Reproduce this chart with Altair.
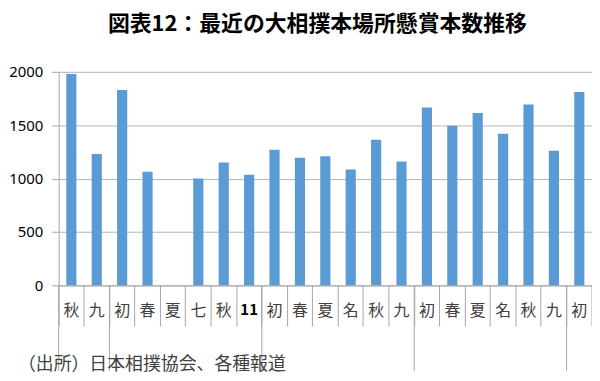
import altair as alt
import pandas as pd

title_text = "図表12：最近の大相撲本場所懸賞本数推移"
source_text = "（出所）日本相撲協会、各種報道"

labels = ["秋", "九", "初", "春", "夏", "七", "秋", "11", "初", "春", "夏",
          "名", "秋", "九", "初", "春", "夏", "名", "秋", "九", "初"]
values = [1980, 1230, 1830, 1065, None, 1000, 1150, 1035, 1270, 1195, 1210,
          1085, 1365, 1160, 1665, 1495, 1615, 1420, 1695, 1260, 1810]
year_start_idx = [0, 2, 8, 14, 20]
y_ticks = [0, 500, 1000, 1500, 2000]

keys = [f"{i:02d}{l}" for i, l in enumerate(labels)]
df = pd.DataFrame({"key": keys, "label": labels, "value": values})
bound_df = pd.DataFrame({"key": [keys[i] for i in year_start_idx]})

W, H = 537, 215
JP = "Noto Sans CJK JP"
AXC = "#A6A6A6"

xscale = alt.Scale(domain=keys, paddingInner=0, paddingOuter=0)

bars = alt.Chart(df).mark_bar(width={"band": 0.4}, color="#5B9BD5").encode(
    x=alt.X("key:N", sort=keys, scale=xscale,
            axis=alt.Axis(title=None, labels=False, bandPosition=0, tickSize=41,
                          tickColor=AXC, domainColor=AXC, grid=False)),
    y=alt.Y("value:Q", scale=alt.Scale(domain=[0, 2000]),
            axis=alt.Axis(values=y_ticks, format="d", title=None, grid=True,
                          gridColor="#B3B3B3", tickSize=7, tickColor=AXC,
                          domainColor=AXC, labelPadding=9, labelFont="Noto Sans",
                          labelFontSize=15, labelColor="#000000")),
)

end_tick = alt.Chart(alt.Data(values=[{"a": 1}])).mark_rule(color=AXC).encode(
    x=alt.value(W), y=alt.value(H), y2=alt.value(H + 41))

year_lines = alt.Chart(bound_df).mark_rule(color=AXC).encode(
    x=alt.X("key:N", sort=keys, scale=xscale, bandPosition=0),
    y=alt.value(H), y2=alt.value(H + 86))

lab_normal = alt.Chart(df).transform_filter("datum.label != '11'").mark_text(
    font=JP, fontSize=16, baseline="middle", color="#404040").encode(
    x=alt.X("key:N", sort=keys, scale=xscale), y=alt.value(H + 26), text="label:N")

lab_bold = alt.Chart(df).transform_filter("datum.label == '11'").mark_text(
    font=JP, fontSize=15, fontWeight="bold", baseline="middle", color="#000000").encode(
    x=alt.X("key:N", sort=keys, scale=xscale), y=alt.value(H + 25), text="label:N")

source = alt.Chart(alt.Data(values=[{"t": source_text}])).mark_text(
    font=JP, fontSize=18, align="left", baseline="middle", color="#404040").encode(
    x=alt.value(-41), y=alt.value(295), text="t:N")

chart = alt.layer(bars, end_tick, year_lines, lab_normal, lab_bold, source).properties(
    width=W, height=H, autosize="none",
    padding={"left": 51, "top": 63, "right": 0, "bottom": 92},
    title=alt.TitleParams(title_text, anchor="middle", font=JP, fontSize=22,
                          fontWeight="bold", color="#000000", offset=29, dx=-8),
).configure_view(stroke=None)

chart.save("out.html", embed_options={"renderer": "svg", "actions": False})
